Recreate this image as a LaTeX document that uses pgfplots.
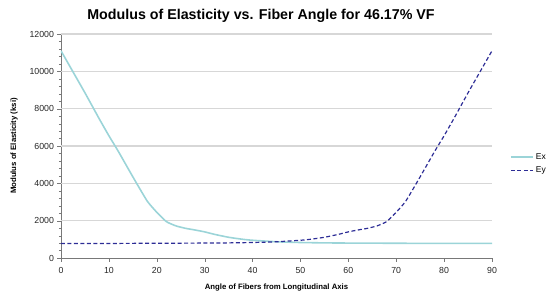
\documentclass[border=0pt]{standalone}
\usepackage{pgfplots}
\pgfplotsset{compat=1.18}
\usepackage{fontspec}
\setmainfont{Liberation Sans}
\definecolor{excol}{RGB}{155,212,216}
\definecolor{eycol}{RGB}{45,45,150}
\definecolor{gridc}{RGB}{215,215,215}
\definecolor{axc}{RGB}{120,120,120}
\begin{document}
\begin{tikzpicture}
\path[use as bounding box] (-61bp,-40bp) rectangle (495bp,258bp);
\begin{axis}[
  at={(0,0)}, anchor=south west,
  scale only axis, width=431bp, height=224bp,
  xmin=0, xmax=90, ymin=0, ymax=12000,
  xtick={0,10,...,90}, ytick={0,2000,...,12000},
  minor y tick num=4,
  axis x line*=bottom, axis y line*=left,
  axis line style={axc, line width=0.8pt},
  tick align=outside,
  major tick length=3.5bp, minor tick length=2bp,
  tick style={axc},
  tick label style={font=\fontsize{8.8}{10}\selectfont, text=black!85},
  xticklabel style={yshift=-2bp},
  /pgf/number format/assume math mode=true,
  /pgf/number format/1000 sep={},
  scaled y ticks=false,
  xlabel={\bfseries Angle of Fibers from Longitudinal Axis},
  ylabel={\bfseries Modulus of Elasticity (ksi)},
  label style={font=\fontsize{7.8}{9}\selectfont},
  xlabel style={yshift=-4bp},
  ylabel style={yshift=5bp},
  legend style={at={(1,0.42)}, anchor=west, xshift=15bp, draw=none, fill=none,
    font=\fontsize{8.5}{9}\selectfont, row sep=2bp},
  legend cell align=left,
  legend image code/.code={\draw[#1] (0cm,0cm) -- (0.78cm,0cm);},
]
\pgfplotsinvokeforeach{2000,4000,6000,8000,10000,12000}{
  \draw[gridc, line width=1.1pt] (axis cs:0,#1) -- (axis cs:90,#1);
}
\addplot[excol, line width=1.6pt, smooth, tension=0.3] coordinates {
(0,11100) (2,10200) (5,8850) (8,7450) (10,6550) (12,5700) (15,4350) (18,3050)
(20,2450) (22,1950) (24,1720) (26,1590) (28,1500) (30,1400) (32,1270) (35,1110)
(38,1000) (40,950) (45,870) (50,830) (55,810) (60,800) (70,790) (80,780) (90,780)
};
\addlegendentry{Ex}
\addplot[eycol, line width=1.2pt, dash pattern=on 4pt off 2.5pt, smooth, tension=0.3] coordinates {
(0,780) (10,780) (20,790) (30,800) (35,810) (40,830) (45,870) (50,950)
(52,1000) (55,1110) (58,1270) (60,1400) (62,1500) (64,1590) (66,1720) (68,1950)
(70,2450) (72,3050) (75,4350) (78,5700) (80,6550) (82,7450) (85,8850) (88,10200) (90,11100)
};
\addlegendentry{Ey}
\end{axis}
\node[font=\bfseries\fontsize{14.3}{16}\selectfont] at (200bp,242bp) {Modulus of Elasticity vs. Fiber Angle for 46.17\% VF};
\end{tikzpicture}
\end{document}
